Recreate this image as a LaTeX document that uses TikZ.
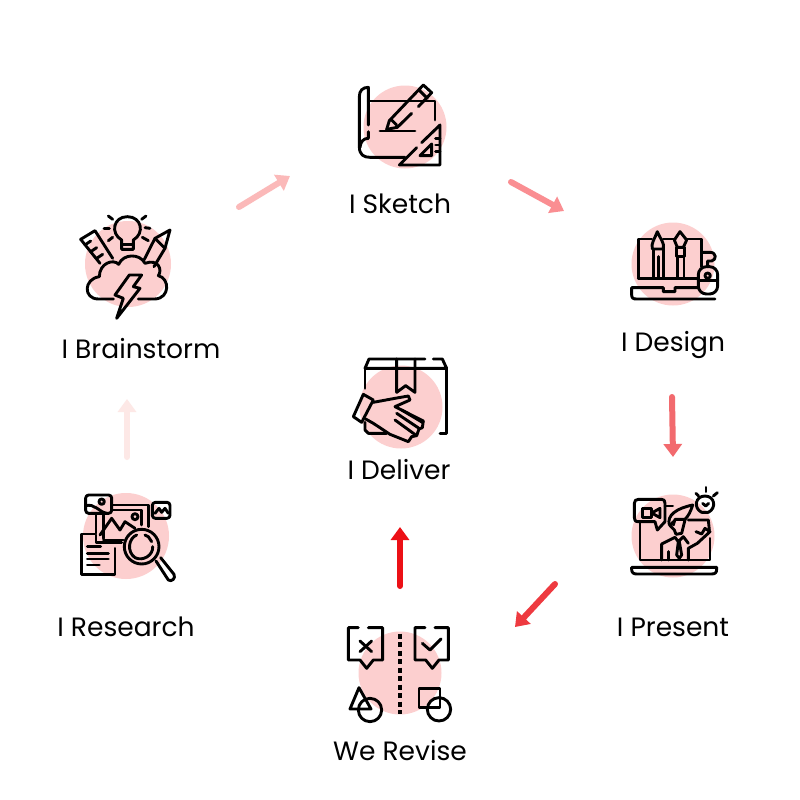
\documentclass[tikz,border=0pt]{standalone}
\usepackage{fontspec}
\setmainfont{Poppins}
\usetikzlibrary{arrows.meta}
\definecolor{blob}{HTML}{FCCFCF}
\definecolor{arA}{HTML}{FDE8E6}
\definecolor{arB}{HTML}{FBB9B9}
\definecolor{arC}{HTML}{FA8E92}
\definecolor{arD}{HTML}{F26A6E}
\definecolor{arE}{HTML}{EE3A40}
\definecolor{arF}{HTML}{EC1016}
\tikzset{
  blobdisc/.style={fill=blob,draw=none},
  ic/.style={draw=black,line width=2.9pt,line cap=round,line join=round},
  lbl/.style={font=\fontsize{26.5}{30}\selectfont,text=black,inner sep=0pt,anchor=center},
  flow/.style={draw=#1,line width=6pt,line cap=round,-{Triangle[width=18pt,length=13pt]}}
}
\begin{document}
\begin{tikzpicture}[x=1pt,y=-1pt]
\useasboundingbox (0,0) rectangle (800,800);
\fill[white] (0,0) rectangle (800,800);
% discs
\fill[blobdisc] (405,127) circle[radius=41.5];
\fill[blobdisc] (128,264) circle[radius=43];
\fill[blobdisc] (673,264) circle[radius=41.5];
\fill[blobdisc] (401,407) circle[radius=41.5];
\fill[blobdisc] (126,536) circle[radius=43];
\fill[blobdisc] (673,536) circle[radius=41.5];
\fill[blobdisc] (400,673) circle[radius=41.5];
% labels
\node[lbl] (sketch) at (400,204) {I Sketch};
\node[lbl] (brain) at (141,349) {I Brainstorm};
\node[lbl] (design) at (673,345) {I Design};
\node[lbl] (deliver) at (399,470) {I Deliver};
\node[lbl] (research) at (126,627) {I Research};
\node[lbl] (present) at (673,627) {I Present};
\node[lbl] (revise) at (400,751) {We Revise};
% connector ends
\coordinate (a1) at (127,457); \coordinate (a2) at (127,399);
\coordinate (b1) at (239,207); \coordinate (b2) at (290,176);
\coordinate (c1) at (511,182); \coordinate (c2) at (564,211);
\coordinate (d1) at (672,397); \coordinate (d2) at (673,457);
\coordinate (e1) at (555,584); \coordinate (e2) at (515,627);
\coordinate (f1) at (400,586); \coordinate (f2) at (400,527);
\draw[flow=arA] (a1) -- (a2);
\draw[flow=arB] (b1) -- (b2);
\draw[flow=arC] (c1) -- (c2);
\draw[flow=arD] (d1) -- (d2);
\draw[flow=arE] (e1) -- (e2);
\draw[flow=arF] (f1) -- (f2);
% sketch icon
\begin{scope}[shift={(340,70)},scale=0.3333,ic]
\draw (85,93) -- (285,93) -- (285,150);
\draw (85,165) -- (85,52) .. controls (68,52) and (58,62) .. (58,80) -- (58,230) .. controls (58,255) and (72,262) .. (90,262) -- (195,262);
\draw (85,185) -- (85,205) .. controls (70,205) and (62,215) .. (60,232);
\draw (120,183) -- (225,183);
\draw (140,178) -- (148,152) -- (250,45) -- (275,68) -- (235,110);
\draw (215,130) -- (172,172) -- (140,178);
\draw (237,60) -- (262,85);
\draw (155,150) -- (170,165);
\draw (230,233) -- (178,285) -- (300,285) -- (300,165) -- (245,218);
\draw (240,257) -- (275,222) -- (275,257) -- cycle;
\draw (287,205) -- (300,205); \draw (287,225) -- (300,225); \draw (287,245) -- (300,245);
\end{scope}
% brainstorm icon
\begin{scope}[shift={(70,205)},scale=0.3333,ic]
\draw (155,105) .. controls (120,85) and (130,35) .. (172,35) .. controls (215,35) and (225,85) .. (190,105) -- (190,133) -- (155,133) -- cycle;
\draw (160,118) -- (185,118);
\draw (115,33) -- (128,43); \draw (228,33) -- (215,43);
\draw (102,70) -- (118,70); \draw (225,68) -- (240,70);
\draw (115,107) -- (128,97); \draw (217,97) -- (235,107);
\draw (90,175) -- (32,103) -- (75,77) -- (128,160);
\draw (45,120) -- (62,108); \draw (62,140) -- (80,128); \draw (80,160) -- (98,148);
\draw (222,165) -- (255,100) -- (300,75) -- (285,130) -- (252,185);
\draw (255,100) -- (285,130);
\draw (130,282) -- (85,282) .. controls (40,282) and (40,222) .. (88,215) .. controls (88,175) and (130,160) .. (146,178) .. controls (160,145) and (210,145) .. (225,175) .. controls (265,160) and (278,195) .. (265,212) .. controls (300,220) and (300,280) .. (255,282) -- (205,282);
\draw (178,210) -- (215,210) -- (190,245) -- (210,250) -- (140,340) -- (160,280) -- (135,270) -- cycle;
\end{scope}
% design icon
\begin{scope}[shift={(620,215)},scale=0.3333,ic]
\draw (55,190) -- (55,72) -- (95,72); \draw (130,72) -- (165,72); \draw (198,72) -- (245,72) -- (245,155);
\draw (55,190) -- (235,190);
\draw (235,218) -- (165,218) -- (165,230) -- (130,230) -- (130,218) -- (35,218) -- (35,240) .. controls (35,250) and (40,252) .. (50,252) -- (285,252);
\draw (112,50) .. controls (105,70) and (92,85) .. (97,102) -- (130,102) .. controls (135,85) and (120,70) .. (112,50);
\draw (100,102) -- (100,190); \draw (130,102) -- (130,190); \draw (115,125) -- (115,190);
\draw (180,50) -- (163,75) -- (172,97) -- (190,97) -- (200,75) -- cycle;
\draw (170,97) -- (170,125) -- (194,125) -- (194,97);
\draw (172,125) -- (172,190); \draw (192,125) -- (192,190);
\draw[rounded corners=8pt] (235,155) rectangle (293,237);
\draw (263,182) circle[radius=8];
\draw (235,197) -- (293,197);
\draw (263,155) -- (263,138) -- (275,138) .. controls (290,135) and (290,112) .. (270,112) -- (248,112);
\end{scope}
% deliver icon
\begin{scope}[shift={(345,345)},scale=0.3333,ic]
\draw (240,42) -- (72,42) -- (60,70) -- (305,70) -- (292,42) -- (265,42);
\draw (305,70) -- (305,265) -- (285,265);
\draw (60,70) -- (60,130);
\draw (60,232) -- (60,255) -- (70,265) -- (125,265);
\draw (155,42) -- (155,142) -- (182,122) -- (210,142) -- (210,42);
\draw (55,148) -- (85,165) -- (50,232) -- (25,215) -- cycle;
\draw (85,172) -- (150,160) -- (190,153) -- (195,165) -- (150,185) -- (235,228) -- (232,248) -- (222,252) -- (215,272) -- (200,275) -- (190,290) -- (135,268) -- (85,235) -- (62,222);
\draw (170,195) -- (232,232);
\draw (155,205) -- (222,250);
\draw (150,225) -- (212,270);
\end{scope}
% research icon
\begin{scope}[shift={(70,485)},scale=0.3333,ic]
\draw[rounded corners=3pt] (47,30) rectangle (125,85);
\draw (95,50) circle[radius=8];
\draw (47,62) .. controls (75,55) and (85,80) .. (110,85);
\draw (125,60) -- (235,60) -- (235,125);
\draw (125,75) -- (215,75) -- (215,120);
\draw (78,90) -- (78,145); \draw (100,90) -- (100,160);
\draw (90,150) -- (125,100) -- (150,135) -- (165,110) -- (195,130);
\draw (195,95) circle[radius=9];
\draw (100,165) -- (160,165); \draw (78,150) -- (78,172) -- (155,172);
\draw[rounded corners=3pt] (247,52) rectangle (300,100);
\draw (255,85) -- (267,70) -- (275,82) -- (285,70) -- (295,85);
\draw (75,147) -- (35,147) -- (35,268) -- (135,268) -- (135,190);
\draw (52,185) -- (92,185); \draw (52,205) -- (115,205); \draw (52,222) -- (115,222); \draw (52,240) -- (88,240);
\draw (215,185) circle[radius=52];
\draw (200,150) .. controls (175,160) and (170,200) .. (195,218) .. controls (220,230) and (250,210) .. (248,185);
\draw (245,170) -- (235,155) -- (225,150);
\draw (258,228) -- (295,285) .. controls (305,292) and (318,280) .. (312,268) -- (272,218);
\end{scope}
% present icon
\begin{scope}[shift={(620,480)},scale=0.3333,ic]
\draw (105,125) -- (55,125) .. controls (45,125) and (43,120) .. (43,112) -- (43,70) .. controls (43,62) and (48,58) .. (55,58) -- (125,58) .. controls (132,58) and (135,62) .. (135,70) -- (135,125) -- (112,150) -- (105,125);
\draw (68,85) rectangle (95,113);
\draw (95,99) -- (120,85) -- (120,113) -- cycle;
\draw (60,125) -- (60,240) -- (270,240) -- (270,175);
\draw (135,78) -- (158,78);
\draw (205,120) -- (265,120) -- (268,150);
\draw (35,262) -- (290,262) -- (290,268) .. controls (290,278) and (285,282) .. (275,282) -- (50,282) .. controls (40,282) and (35,278) .. (35,268) -- cycle;
\draw (245,97) .. controls (220,85) and (225,48) .. (255,48) .. controls (285,48) and (290,85) .. (265,97) -- cycle;
\draw (248,70) -- (257,78) -- (266,70);
\draw (228,40) -- (236,48); \draw (258,22) -- (258,35); \draw (292,38) -- (280,48);
\draw (148,135) .. controls (140,105) and (170,85) .. (218,75) .. controls (212,95) and (205,108) .. (195,118) -- (165,118) -- (160,135);
\draw (160,125) -- (150,137) -- (163,150) -- (168,163) -- (185,160) -- (195,120);
\draw (125,240) -- (125,192) -- (165,172) -- (175,185) -- (190,170) -- (205,190);
\draw (175,185) -- (170,225) -- (178,235) -- (185,225) -- (178,185);
\draw (205,240) -- (205,205) -- (232,190) -- (270,155) -- (255,145) -- (245,162) -- (228,155);
\draw (145,215) -- (145,240);
\end{scope}
% revise icon
\begin{scope}[shift={(335,615)},scale=0.3333,ic]
\draw (70,38) -- (40,38) -- (40,135) -- (75,135) -- (95,160) -- (115,135) -- (143,135) -- (143,38) -- (100,38);
\draw (75,78) -- (110,110); \draw (110,78) -- (75,110);
\draw (270,38) -- (240,38) -- (240,135) -- (272,135) -- (292,160) -- (312,135) -- (340,135) -- (340,38) -- (300,38);
\draw (262,85) -- (285,105) -- (318,72);
\draw[line cap=butt,dash pattern=on 5pt off 3.5pt,line width=3.2pt] (195,56) -- (195,298);
\draw (72,218) -- (45,282) -- (108,282) -- cycle;
\draw (105,285) circle[radius=35];
\draw (252,220) rectangle (315,278);
\draw (312,283) circle[radius=35];
\end{scope}
\end{tikzpicture}
\end{document}
